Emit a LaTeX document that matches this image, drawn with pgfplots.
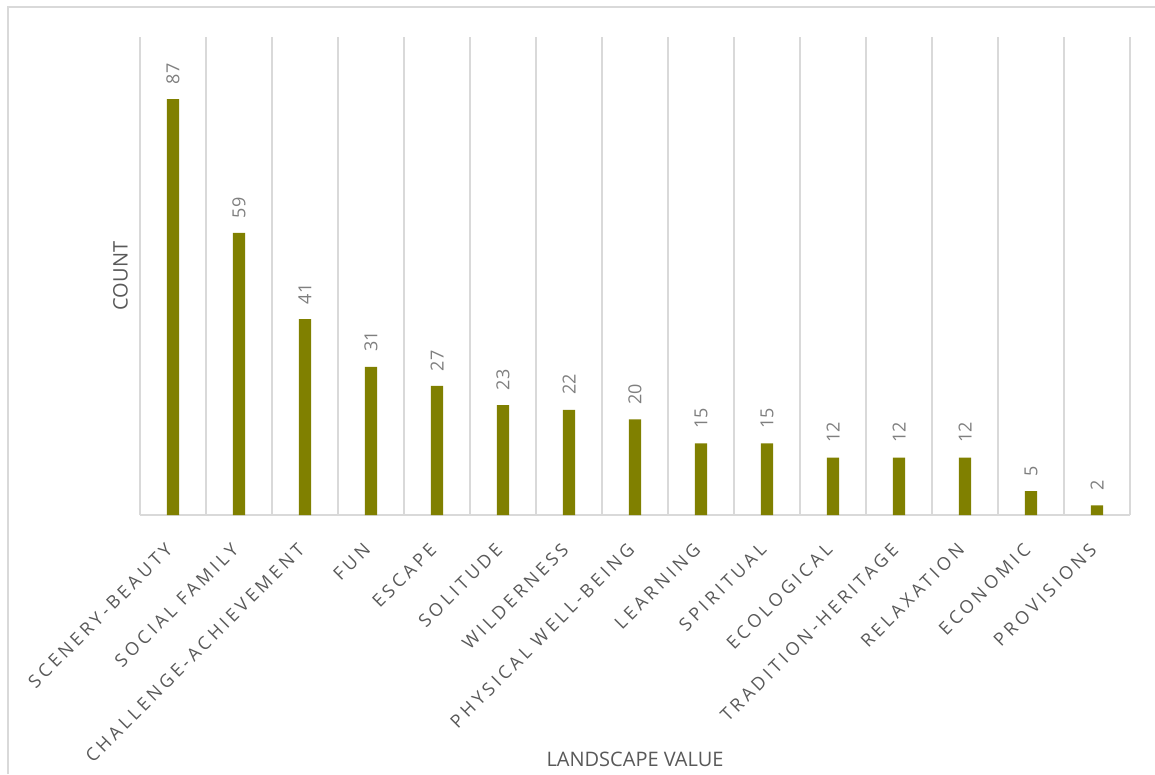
\documentclass[border=0pt]{standalone}
\usepackage{fontspec}
\setmainfont{Open Sans}
\newfontfamily\tickfont[LetterSpace=20]{Open Sans}
\usepackage{pgfplots}
\pgfplotsset{compat=1.18}
\definecolor{gridc}{HTML}{D9D9D9}
\definecolor{barc}{HTML}{808000}
\definecolor{labc}{HTML}{595959}
\definecolor{valc}{HTML}{7F7F7F}
\newcommand{\wsp}{\hbox to 0.45em{}}
\begin{document}
\begin{tikzpicture}[x=0.75pt,y=0.75pt]
\path[use as bounding box] (0,0) rectangle (1155,774);
\draw[gridc, line width=0.9pt] (8,0) -- (8,767) -- (1155,767);
\begin{axis}[
  at={(105pt,194.25pt)}, anchor=south west,
  scale only axis, width=742.5pt, height=358.5pt,
  xmin=-0.5, xmax=14.5, ymin=0, ymax=100,
  /pgf/number format/assume math mode=true,
  axis x line*=bottom, axis y line=none,
  x axis line style={gridc, line width=1.5pt, -},
  xtick={0,...,14},
  xticklabels={SCENERY-BEAUTY,{SOCIAL\wsp FAMILY},CHALLENGE-ACHIEVEMENT,FUN,ESCAPE,SOLITUDE,WILDERNESS,{PHYSICAL\wsp WELL-BEING},LEARNING,SPIRITUAL,ECOLOGICAL,TRADITION-HERITAGE,RELAXATION,ECONOMIC,PROVISIONS},
  major tick length=0pt, minor tick length=0pt,
  minor xtick={-0.5,0.5,...,14.5},
  xminorgrids, minor grid style={gridc, line width=1.5pt},
  ytick=\empty,
  xticklabel style={yshift=-20pt, xshift=-6.5pt, rotate=45, anchor=north east, inner sep=0pt, font=\tickfont\fontsize{13.5}{16}\selectfont, text=labc},
  ybar, bar width=9.2pt,
  nodes near coords,
  every node near coord/.append style={rotate=90, anchor=west, inner xsep=11pt, font=\fontsize{13.5}{16}\selectfont, text=valc},
]
\addplot[fill=barc, draw=none] coordinates {
(0,87) (1,59) (2,41) (3,31) (4,27) (5,23) (6,22) (7,20) (8,15) (9,15) (10,12) (11,12) (12,12) (13,5) (14,2)};
\end{axis}
\node[rotate=90, text=labc, font=\fontsize{15}{18}\selectfont] at (120.5,498) {COUNT};
\node[text=labc, font=\fontsize{15}{18}\selectfont] at (635,15) {LANDSCAPE VALUE};
\end{tikzpicture}
\end{document}
